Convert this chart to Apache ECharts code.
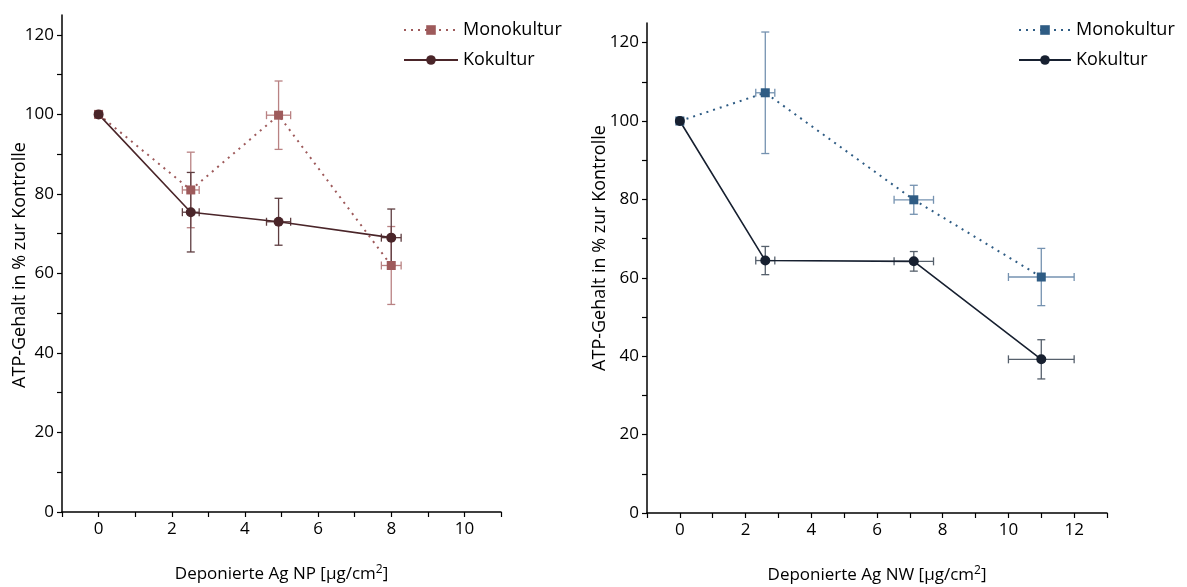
<!DOCTYPE html>
<html>
<head>
<meta charset="utf-8">
<title>ATP-Gehalt</title>
<script src="https://cdn.jsdelivr.net/npm/echarts@6/dist/echarts.min.js"></script>
<style>
  html, body { margin: 0; padding: 0; background: #fff; }
  #chart { width: 1187px; height: 587px; }
</style>
</head>
<body>
<div id="chart"></div>
<script>
// Ag nanoparticles (NP): deposited dose and ATP content (% of control)
const doseNP      = [0, 2.52, 4.92, 8.0];
const doseNPErr   = [0, 0.23, 0.33, 0.27];
const monoNP      = [100, 81.0, 99.8, 62.0];
const monoNPErr   = [0, 9.5, 8.6, 9.8];
const kokNP       = [100, 75.4, 73.0, 69.0];
const kokNPErr    = [0, 10.0, 5.9, 7.2];

// Ag nanowires (NW)
const doseNW      = [0, 2.6, 7.12, 11.0];
const doseNWErr   = [0, 0.29, 0.6, 1.0];
const monoNW      = [100, 107.2, 79.9, 60.2];
const monoNWErr   = [0, 15.5, 3.7, 7.3];
const kokNW       = [100, 64.4, 64.2, 39.2];
const kokNWErr    = [0, 3.6, 2.5, 5.0];

// Axis ticks and labels
const yLabels     = [0, 20, 40, 60, 80, 100, 120];
const yTicks      = [0, 10, 20, 30, 40, 50, 60, 70, 80, 90, 100, 110, 120];
const xLabelsNP   = [0, 2, 4, 6, 8, 10];
const xTicksNP    = [-1, 0, 1, 2, 3, 4, 5, 6, 7, 8, 9, 10, 11];
const xLabelsNW   = [0, 2, 4, 6, 8, 10, 12];
const xTicksNW    = [-1, 0, 1, 2, 3, 4, 5, 6, 7, 8, 9, 10, 11, 12, 13];

const seriesNames = ['Monokultur', 'Kokultur'];
const yTitle = 'ATP-Gehalt in % zur Kontrolle';

const FONT = '"Open Sans", "Noto Sans", sans-serif';

const points = (xs, ys) => xs.map((x, i) => [x, ys[i]]);
const errPoints = (xs, ys, xe, ye) => xs.map((x, i) => [x, ys[i], xe[i], ye[i]]);

// Draws x and y error bars with caps for each point
function errorBars(color) {
  return function (params, api) {
    const x = api.value(0), y = api.value(1), xe = api.value(2), ye = api.value(3);
    const cap = 4;
    const style = { stroke: color, lineWidth: 1.3 };
    const seg = (x1, y1, x2, y2) => ({ type: 'line', shape: { x1, y1, x2, y2 }, style });
    const kids = [];
    if (ye > 0) {
      const t = api.coord([x, y + ye]), b = api.coord([x, y - ye]);
      kids.push(seg(t[0], t[1], b[0], b[1]));
      kids.push(seg(t[0] - cap, t[1], t[0] + cap, t[1]));
      kids.push(seg(b[0] - cap, b[1], b[0] + cap, b[1]));
    }
    if (xe > 0) {
      const l = api.coord([x - xe, y]), r = api.coord([x + xe, y]);
      kids.push(seg(l[0], l[1], r[0], r[1]));
      kids.push(seg(l[0], l[1] - cap, l[0], l[1] + cap));
      kids.push(seg(r[0], r[1] - cap, r[0], r[1] + cap));
    }
    return { type: 'group', children: kids };
  };
}

function xAxis(gridIndex, min, max, labels, ticks, name) {
  return {
    type: 'value', gridIndex, min, max,
    splitLine: { show: false },
    axisLine: { show: true, onZero: false, lineStyle: { color: '#000', width: 1.5 } },
    axisTick: { show: true, inside: false, length: 5, customValues: ticks, lineStyle: { color: '#000', width: 1.2 } },
    axisLabel: { customValues: labels, color: '#000', fontFamily: FONT, fontSize: 17, margin: 9 },
    name,
    nameLocation: 'middle',
    nameGap: 52,
    nameTextStyle: {
      color: '#000', fontFamily: FONT, fontSize: 17,
      rich: { sup: { fontFamily: FONT, fontSize: 12, color: '#000', verticalAlign: 'top', padding: [0, 0, 8, 0] } }
    }
  };
}

function yAxis(gridIndex) {
  return {
    type: 'value', gridIndex, min: 0, max: 125,
    splitLine: { show: false },
    axisLine: { show: true, onZero: false, lineStyle: { color: '#000', width: 1.5 } },
    axisTick: { show: true, inside: false, length: 5, customValues: yTicks, lineStyle: { color: '#000', width: 1.2 } },
    axisLabel: { customValues: yLabels, color: '#000', fontFamily: FONT, fontSize: 17, margin: 8 }
  };
}

function lineSeries(name, xi, data, color, dotted, symbol, size) {
  return {
    name, type: 'line', xAxisIndex: xi, yAxisIndex: xi,
    data, symbol, symbolSize: size, z: 5,
    itemStyle: { color },
    lineStyle: dotted ? { color, width: 2, type: [2, 5] } : { color, width: 1.6 },
    emphasis: { disabled: true }
  };
}

function errSeries(name, xi, data, color) {
  return {
    name, type: 'custom', xAxisIndex: xi, yAxisIndex: xi,
    data, renderItem: errorBars(color), z: 3,
    encode: { x: 0, y: 1 }, silent: true
  };
}

const cNPmono = '#9e5a5b', cNPmonoErr = '#b98283';
const cNPkok = '#4a2529', cNPkokErr = '#5e3d40';
const cNWmono = '#2f5c84', cNWmonoErr = '#7592b0';
const cNWkok = '#172030', cNWkokErr = '#56606c';

const legendText = { color: '#000', fontFamily: FONT, fontSize: 18 };

const option = {
  backgroundColor: '#fff',
  animation: false,
  grid: [
    { left: 62, top: 15, width: 439, height: 497, outerBoundsMode: 'none' },
    { left: 647, top: 23, width: 460, height: 490, outerBoundsMode: 'none' }
  ],
  xAxis: [
    xAxis(0, -1, 11, xLabelsNP, xTicksNP, 'Deponierte Ag NP [µg/cm{sup|2}]'),
    xAxis(1, -1, 13, xLabelsNW, xTicksNW, 'Deponierte Ag NW [µg/cm{sup|2}]')
  ],
  yAxis: [yAxis(0), yAxis(1)],
  legend: [
    {
      orient: 'vertical', left: 403, top: 21, padding: 0, itemWidth: 54, itemHeight: 12, itemGap: 12,
      textStyle: legendText, data: seriesNames.map(n => n + ' '),
      selectedMode: false
    },
    {
      orient: 'vertical', left: 1018, top: 21, padding: 0, itemWidth: 52, itemHeight: 12, itemGap: 12,
      textStyle: legendText, data: seriesNames.map(n => n + '  '),
      selectedMode: false
    }
  ],
  graphic: [
    {
      type: 'text', x: 20, y: 265, rotation: Math.PI / 2,
      style: { text: yTitle, fill: '#000', font: '18px ' + FONT, align: 'center', verticalAlign: 'middle' }
    },
    {
      type: 'text', x: 600, y: 248, rotation: Math.PI / 2,
      style: { text: yTitle, fill: '#000', font: '18px ' + FONT, align: 'center', verticalAlign: 'middle' }
    }
  ],
  series: [
    errSeries('errNPmono', 0, errPoints(doseNP, monoNP, doseNPErr, monoNPErr), cNPmonoErr),
    errSeries('errNPkok', 0, errPoints(doseNP, kokNP, doseNPErr, kokNPErr), cNPkokErr),
    lineSeries(seriesNames[0] + ' ', 0, points(doseNP, monoNP), cNPmono, true, 'rect', 9),
    lineSeries(seriesNames[1] + ' ', 0, points(doseNP, kokNP), cNPkok, false, 'circle', 10),

    errSeries('errNWmono', 1, errPoints(doseNW, monoNW, doseNWErr, monoNWErr), cNWmonoErr),
    errSeries('errNWkok', 1, errPoints(doseNW, kokNW, doseNWErr, kokNWErr), cNWkokErr),
    lineSeries(seriesNames[0] + '  ', 1, points(doseNW, monoNW), cNWmono, true, 'rect', 9),
    lineSeries(seriesNames[1] + '  ', 1, points(doseNW, kokNW), cNWkok, false, 'circle', 10)
  ]
};

const chart = echarts.init(document.getElementById('chart'), null, { renderer: 'canvas' });
chart.setOption(option);
</script>
</body>
</html>
